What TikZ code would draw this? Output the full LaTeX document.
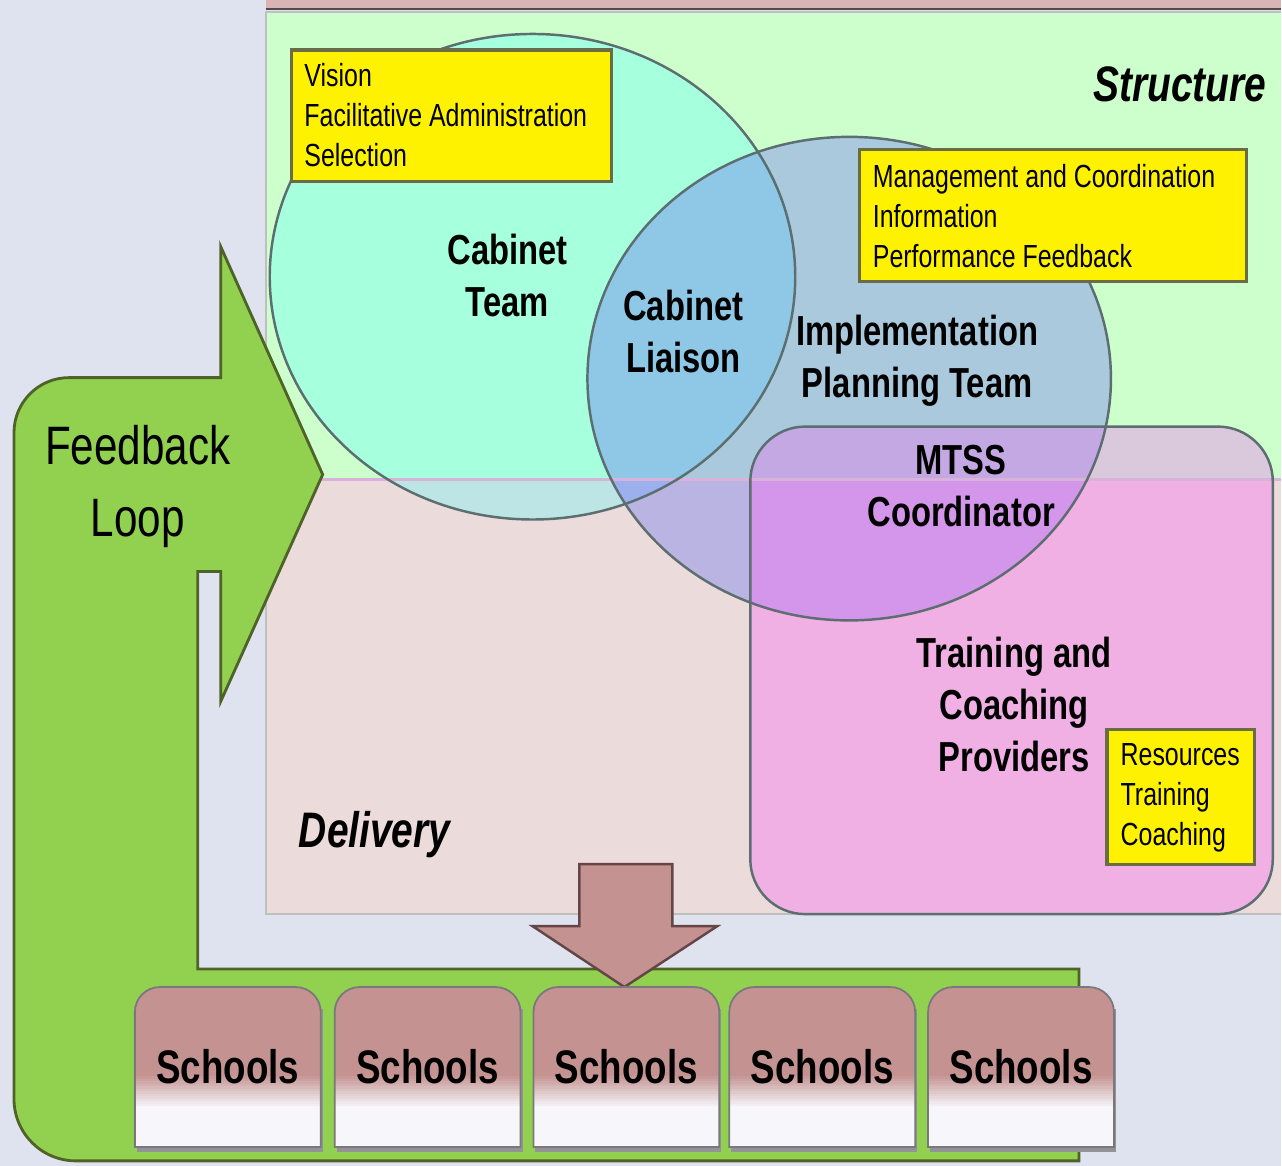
\documentclass[tikz,border=0pt]{standalone}
\usepackage{xcolor}
\usepackage{fontspec}
\setmainfont{Liberation Sans}[FakeStretch=0.78]
\usepackage{tikz}

% Màu
\definecolor{bgblue}{RGB}{223,227,239}
\definecolor{topstrip}{RGB}{216,180,180}
\definecolor{structgreen}{RGB}{204,255,204}
\definecolor{deliverypink}{RGB}{235,219,219}
\definecolor{cabinetG}{RGB}{166,255,221}
\definecolor{cabinetP}{RGB}{190,229,230}
\definecolor{planG}{RGB}{170,201,221}
\definecolor{planP}{RGB}{185,180,226}
\definecolor{liaisonG}{RGB}{142,200,230}
\definecolor{liaisonP}{RGB}{157,176,238}
\definecolor{mtssG}{RGB}{218,200,220}
\definecolor{mtssP}{RGB}{240,176,228}
\definecolor{coordG}{RGB}{196,168,228}
\definecolor{coordP}{RGB}{212,150,234}
\definecolor{loopgreen}{RGB}{146,208,80}
\definecolor{loopedge}{RGB}{79,98,40}
\definecolor{rose}{RGB}{196,147,145}
\definecolor{roseedge}{RGB}{100,70,70}
\definecolor{schoolwhite}{RGB}{246,246,251}
\definecolor{edgegray}{RGB}{92,110,112}
\definecolor{noteedge}{RGB}{105,108,70}
\definecolor{shadowgray}{RGB}{120,120,125}

\newcommand{\cabinetshape}{(533,-277) ellipse [x radius=263, y radius=243]}
\newcommand{\planshape}{(850,-379) ellipse [x radius=262, y radius=242]}
\newcommand{\mtssshape}{[rounded corners=0.55cm] (751,-427) rectangle (1274,-915)}

\begin{document}
\begin{tikzpicture}[x=0.01cm,y=0.01cm,
	outline/.style={draw=edgegray, line width=0.7pt},
	notebox/.style={draw=noteedge, line width=0.9pt, fill=yellow},
	notetext/.style={align=left, inner sep=0pt, font=\fontsize{9.1}{11.4}\selectfont},
	teamlabel/.style={align=center, inner sep=0pt, font=\fontsize{11.95}{14.8}\selectfont\bfseries},
	zonelabel/.style={inner sep=0pt, font=\fontsize{14.2}{17}\selectfont\bfseries\itshape},
	looplabel/.style={align=center, inner sep=0pt, font=\fontsize{15.4}{20.5}\selectfont},
	schoollabel/.style={inner sep=0pt, font=\fontsize{13.4}{16}\selectfont\bfseries},
	schoolbox/.style={draw=shadowgray, line width=0.5pt}]
			% Vẽ nền
			\fill[bgblue] (0,0) rectangle (1282,-1167);
			\fill[topstrip] (266,0) rectangle (1282,-9);
			\draw[black!70, line width=0.7pt] (266,-9) -- (1282,-9);
			\fill[structgreen] (266,-12) rectangle (1282,-480);
			\fill[deliverypink] (266,-480) rectangle (1282,-915);
			\draw[black!25, line width=0.6pt] (1282,-12) -- (266,-12) -- (266,-915) -- (1282,-915);
			% Các vùng giao nhau
			\foreach \ya/\yb/\z in {-12/-480/G,-480/-915/P}
			{
			\begin{scope}
				\clip (266,\ya) rectangle (1282,\yb);
				\fill[fill=cabinet\z] \cabinetshape;
				\fill[fill=plan\z] \planshape;
				\begin{scope}
					\clip \cabinetshape;
					\fill[fill=liaison\z] \planshape;
				\end{scope}
				\fill[fill=mtss\z] \mtssshape;
				\begin{scope}
					\clip \planshape;
					\fill[fill=coord\z] \mtssshape;
				\end{scope}
			\end{scope}
			}
			\draw[violet!30, line width=0.6pt] (266,-480) -- (1282,-480);
			\draw[outline] \cabinetshape;
			\draw[outline] \planshape;
			\draw[outline] \mtssshape;
			% Mũi tên phản hồi
			\draw[fill=loopgreen, draw=loopedge, line width=0.8pt] (221,-247) -- (323,-475) -- (221,-702) -- (221,-572) -- (198,-572) -- (198,-970) -- (1080,-970) -- (1080,-1162) -- (76,-1162) arc (270:180:62) -- (14,-433) arc (180:90:55) -- (221,-378) -- cycle;
			% Mũi tên xuống
			\draw[fill=rose, draw=roseedge, line width=0.7pt] (580,-865) -- (673,-865) -- (673,-927) -- (718,-927) -- (625,-988) -- (533,-927) -- (580,-927) -- cycle;
			% Các trường
			\foreach \x [count=\i] in {228,428,627,823,1022}
			{
			\fill[shadowgray!80] (\x-91,-1153) rectangle (\x+95,-1010);
			\begin{scope}
				\clip (\x-93,-1148) -- (\x-93,-1013) arc (180:90:25) -- (\x+68,-988) arc (90:0:25) -- (\x+93,-1148) -- cycle;
				\fill[rose] (\x-95,-985) rectangle (\x+95,-1076);
				\foreach \k in {0,...,13}
				\fill[rose!\fpeval{100-\k*100/13}!schoolwhite] (\x-95,-1075-\k*2.5) rectangle (\x+95,-1078-\k*2.5);
				\fill[schoolwhite] (\x-95,-1110) rectangle (\x+95,-1150);
			\end{scope}
			\draw[schoolbox] (\x-93,-1148) -- (\x-93,-1013) arc (180:90:25) -- (\x+68,-988) arc (90:0:25) -- (\x+93,-1148) -- cycle;
			\node[schoollabel] (school\i) at (\x,-1068) {Schools};
			}
			% Hộp ghi chú
			\draw[notebox] (292,-50) rectangle (612,-182);
			\node[notetext, anchor=west] (vision) at (304,-115) {Vision\\Facilitative Administration\\Selection};
			\draw[notebox] (860,-150) rectangle (1248,-282);
			\node[notetext, anchor=west] (management) at (873,-216) {Management and Coordination\\Information\\Performance Feedback};
			\draw[notebox] (1108,-730) rectangle (1256,-865);
			\node[notetext, anchor=west] (resources) at (1121,-799) {Resources\\Training\\Coaching};
			% Nhãn
			\node[teamlabel] (cabinet) at (508,-276) {Cabinet\\Team};
			\node[teamlabel] (liaison) at (684,-332) {Cabinet\\Liaison};
			\node[teamlabel] (planning) at (918,-361) {Implementation\\Planning Team};
			\node[teamlabel] (mtss) at (962,-487) {MTSS\\Coordinator};
			\node[teamlabel] (providers) at (1015,-705) {Training and\\Coaching\\Providers};
			\node[zonelabel, anchor=base] (structure) at (1181,-102) {Structure};
			\node[zonelabel, anchor=base] (delivery) at (375,-848) {Delivery};
			\node[looplabel] (feedback) at (138,-487) {Feedback\\Loop};
\end{tikzpicture}
\end{document}
